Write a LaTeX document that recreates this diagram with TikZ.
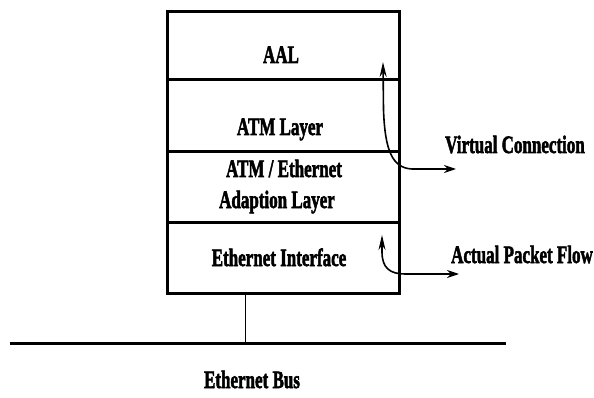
\documentclass[tikz,border=0pt]{standalone}
\usepackage{fontspec}
\setmainfont{Liberation Serif}
\newfontfamily\heavyfont[FakeBold=2.5]{Liberation Serif Bold}
\usetikzlibrary{arrows.meta}

\tikzset{
  layer/.style={draw, line width=3pt, minimum width=232pt, inner sep=0pt},
  lbl/.style={font=\heavyfont\fontsize{25}{27}\selectfont, inner sep=0pt, xscale=0.68, anchor=base},
  flow/.style={line width=1.6pt, {Stealth[length=15pt,width=7pt]}-{Stealth[length=12pt,width=8pt]}}
}

\begin{document}
\begin{tikzpicture}[x=1pt,y=-1pt]
  \useasboundingbox (0,0) rectangle (594,398);

  % protocol stack
  \node[layer, minimum height=68pt] (aal)   at (283,46)    {};
  \node[layer, minimum height=72pt] (atm)   at (283,116)   {};
  \node[layer, minimum height=70pt] (adapt) at (283,187)   {};
  \node[layer, minimum height=71pt] (eth)   at (283,257.5) {};

  \node[lbl] (t-aal)   at (281,63)  {AAL};
  \node[lbl] (t-atm)   at (280,135) {ATM Layer};
  \node[lbl] (t-ad1)   at (284,177) {ATM / Ethernet};
  \node[lbl] (t-ad2)   at (277,208) {Adaption Layer};
  \node[lbl] (t-eth)   at (279,266) {Ethernet Interface};

  % bus and drop line
  \coordinate (bus-l) at (10,343);
  \coordinate (bus-r) at (506,343);
  \coordinate (tap)   at (245,343);
  \draw[line width=3pt] (bus-l) -- (bus-r);
  \draw[line width=1pt] (eth.south -| tap) -- (tap);
  \node[lbl] (t-bus) at (252,388) {Ethernet Bus};

  % virtual connection
  \coordinate (vc-up)  at (383,62);
  \coordinate (vc-end) at (456,169);
  \draw[flow] (vc-up) -- (383.5,110) .. controls (385,150) and (392,168) .. (412,169) -- (vc-end);
  \node[lbl] (t-vc) at (515,153) {Virtual Connection};

  % actual packet flow
  \coordinate (pf-up)  at (382,235);
  \coordinate (pf-end) at (459,274);
  \draw[flow] (pf-up) -- (382,252) .. controls (382,268) and (390,274) .. (405,274) -- (pf-end);
  \node[lbl] (t-pf) at (522,263) {Actual Packet Flow};
\end{tikzpicture}
\end{document}
